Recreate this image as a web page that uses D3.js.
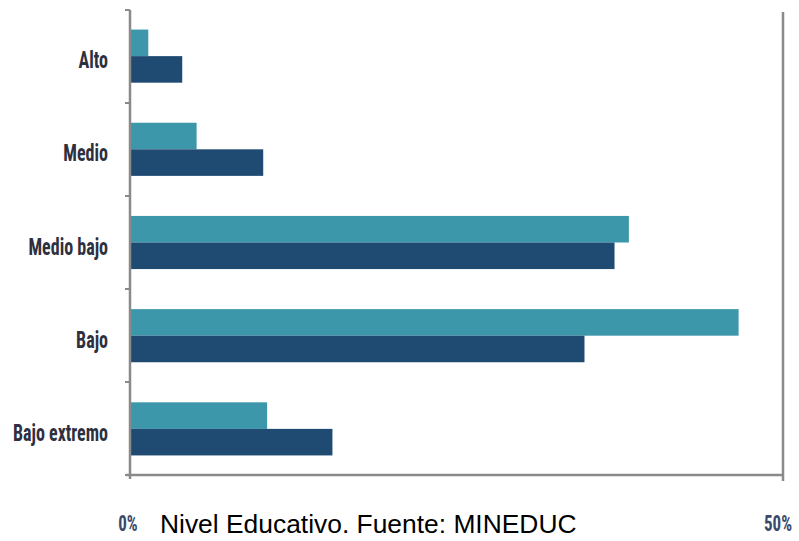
<!DOCTYPE html>
<html><head><meta charset="utf-8">
<script src="https://cdn.jsdelivr.net/npm/d3@7"></script>
<style>body{margin:0;background:#fff}svg{display:block}</style>
</head><body>
<svg id="c" width="799" height="541"></svg>
<script>
const categories = ["Alto","Medio","Medio bajo","Bajo","Bajo extremo"];
const seriesA = [1.4, 5.1, 38.2, 46.6, 10.5];   // teal
const seriesB = [4.0, 10.2, 37.1, 34.8, 15.5];  // dark blue
const tickLabels = ["0%","50%"];
const tickValues = [0, 50];
const caption = "Nivel Educativo. Fuente: MINEDUC";

const svg = d3.select("#c");
const pLeft = 130, pRight = 783, pTop = 10, pBottom = 475;
const x = d3.scaleLinear().domain([0,50]).range([pLeft,pRight]);
const y = d3.scaleBand().domain(categories).range([pTop,pBottom]).paddingInner(0.43).paddingOuter(0.21);
const sub = d3.scaleBand().domain(["a","b"]).range([0,y.bandwidth()]);

const axisCol = "#8a8a8a";
// right frame line
svg.append("line").attr("x1",pRight).attr("x2",pRight).attr("y1",12).attr("y2",481)
  .attr("stroke",axisCol).attr("stroke-width",2.5);

const g = svg.append("g");
categories.forEach((c,i)=>{
  g.append("rect").attr("x",x(0)+1).attr("y",y(c)+sub("a")).attr("width",x(seriesA[i])-x(0)-1)
    .attr("height",sub.bandwidth()).attr("fill","#3d97ab");
  g.append("rect").attr("x",x(0)+1).attr("y",y(c)+sub("b")).attr("width",x(seriesB[i])-x(0)-1)
    .attr("height",sub.bandwidth()).attr("fill","#1f4a72");
});

// left axis
svg.append("line").attr("x1",pLeft).attr("x2",pLeft).attr("y1",pTop).attr("y2",pBottom+4)
  .attr("stroke",axisCol).attr("stroke-width",2.5);
const step = (pBottom-pTop)/categories.length;
d3.range(categories.length+1).forEach(k=>{
  svg.append("line").attr("x1",pLeft-5).attr("x2",pLeft).attr("y1",pTop+k*step).attr("y2",pTop+k*step)
    .attr("stroke",axisCol).attr("stroke-width",2);
});
// bottom axis
svg.append("line").attr("x1",pLeft-4).attr("x2",pRight).attr("y1",pBottom).attr("y2",pBottom)
  .attr("stroke",axisCol).attr("stroke-width",2.5);

const narrow = "'Liberation Sans Narrow','Roboto Condensed','DejaVu Sans Condensed',sans-serif";
// category labels
svg.selectAll("text.cat").data(categories).join("text").attr("class","cat")
  .attr("transform",d=>`translate(108,${y(d)+y.bandwidth()/2+12}) scale(1,1.3)`)
  .attr("text-anchor","end")
  .attr("font-family",narrow)
  .attr("font-weight","bold").attr("font-size","18px").attr("fill","#2e3040")
  .text(d=>d);

// tick labels
svg.selectAll("text.tick").data(tickValues).join("text").attr("class","tick")
  .attr("transform",d=>`translate(${x(d)-2+(d===0?0:-3)},531) scale(1,1.3)`)
  .attr("text-anchor","middle")
  .attr("font-family",narrow)
  .attr("font-weight","bold").attr("font-size","17px").attr("fill","#3a4a6a")
  .text((d,i)=>tickLabels[i]);

// caption
svg.append("text").attr("x",160).attr("y",533)
  .attr("font-family","'Liberation Sans',Arial,sans-serif").attr("font-size","26.4px").attr("fill","#000")
  .text(caption);
</script>
</body></html>
